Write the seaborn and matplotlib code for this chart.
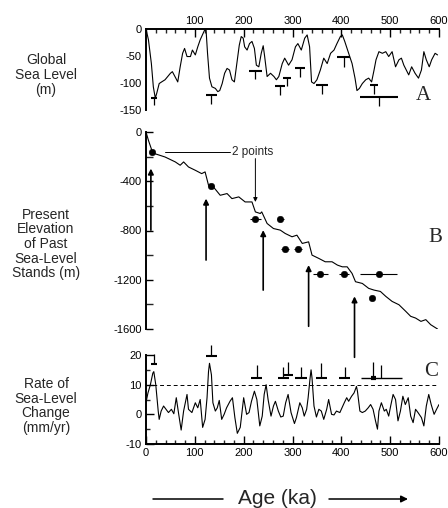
import matplotlib
matplotlib.use("Agg")
import matplotlib.pyplot as plt
from matplotlib.ticker import MultipleLocator
from matplotlib.lines import Line2D
import pandas as pd
import seaborn as sns

sns.set_style("white")
plt.rcParams['font.family'] = ['Liberation Sans', 'DejaVu Sans']
plt.rcParams['axes.unicode_minus'] = False

## panel A: global sea level (m)
A_age = [0,5,11,15,19,22,27,32,39,50,54,61,65,70,75,79,84,91,95,101,106,111,117,120,123,126,130,135,142,147,
         151,156,161,166,171,176,181,186,191,195,199,202,207,212,217,222,226,231,236,240,243,248,255,262,267,272,279,284,292,299,
         306,311,318,325,330,335,339,344,350,357,364,371,378,385,391,398,402,407,415,422,428,432,437,443,450,456,462,467,471,477,
         484,491,497,504,511,518,523,528,533,538,544,551,558,564,569,574,580,585,592,597]
A_sl = [0,-20,-64,-107,-128,-119,-101,-98,-94,-82,-79,-91,-98,-70,-45,-36,-51,-51,-39,-48,-33,-20,-8,-2,-2,-45,-91,-107,-110,-116,
        -114,-101,-82,-73,-76,-94,-98,-64,-30,-14,-17,-33,-39,-27,-23,-36,-67,-70,-45,-31,-51,-88,-82,-88,-94,-88,-64,-54,-67,-57,
        -33,-27,-39,-17,-11,-33,-98,-101,-94,-76,-54,-64,-45,-39,-27,-14,-11,-23,-45,-64,-91,-114,-110,-101,-94,-91,-98,-76,-57,-42,
        -45,-42,-51,-42,-70,-57,-54,-67,-76,-85,-70,-82,-91,-76,-42,-57,-70,-57,-45,-48]
# T markers (age, bar level, half width, lower end)
A_t_age = [16, 134, 224, 275, 289, 316, 361, 405, 467, 478]
A_t_top = [-128, -122, -77, -105, -91, -73, -104, -51, -104, -125]
A_t_hw = [6, 11, 14, 10, 8, 10, 12, 13, 8, 39]
A_t_low = [-141, -139, -93, -122, -105, -88, -120, -70, -120, -142]

## panel B: present elevation of past sea-level stands (m)
B_age = [0,5,12,18,39,60,70,77,87,101,114,121,128,138,152,166,176,190,203,217,224,234,237,248,261,275,285,299,309,320,
         333,340,354,367,381,392,402,412,422,429,443,456,467,480,491,504,518,532,542,552,563,573,583,597]
B_elev = [0,-68,-149,-176,-203,-243,-270,-243,-284,-311,-338,-324,-432,-446,-514,-500,-541,-527,-568,-568,-649,-662,-649,-743,-784,-797,-824,-851,-838,-905,
          -892,-1000,-1027,-1054,-1054,-1081,-1095,-1095,-1149,-1216,-1230,-1270,-1284,-1295,-1335,-1376,-1403,-1457,-1497,-1511,-1538,-1524,-1565,-1600]
pt_age = [13, 133, 224, 275, 285, 311, 357, 405, 477, 462]
pt_elev = [-162, -438, -703, -703, -954, -954, -1154, -1154, -1154, -1349]
pt_err = [0, 7, 11, 7, 8, 8, 15, 10, 38, 0]
arr_age = [10, 123, 240, 333, 427]
arr_tip = [-297, -541, -797, -1081, -1335]
arr_tail = [-797, -1040, -1284, -1578, -1830]

## panel C: rate of sea-level change (mm/yr)
C_age = [0,4,9,14,16,20,25,27,31,36,41,46,52,57,62,67,72,77,84,87,94,101,106,111,116,121,125,128,130,134,
         137,142,146,150,155,160,165,172,177,182,187,193,200,206,211,216,222,227,233,238,242,246,250,256,261,265,271,276,281,286,
         291,297,304,308,315,320,324,329,332,336,338,340,344,349,354,359,364,370,374,380,385,390,397,406,411,415,421,426,431,433,
         438,443,449,455,460,465,470,474,477,482,488,492,497,501,506,511,516,521,526,531,537,542,547,552,557,564,569,574,579,584,
         590,595,600]
C_rate = [4,7.2,10,13.9,14.4,10,1.1,-1.7,1.1,2.8,1.7,0.6,1.7,0.2,5.6,0,-5.3,1.1,6.7,1.7,0.6,3.9,2.2,5,-4.4,-1.7,5.6,14.4,17.2,13.3,
          3.9,1.1,2.2,4.7,-1.7,0,2.2,4.4,5.6,-1.1,-6.4,-4.4,5.6,0,0.6,4.4,7.8,5,-3.9,-0.6,6.7,10,5,-0.6,2.8,4.4,1.1,-0.9,-0.6,3.9,
          6.7,0.6,-3.1,-1.1,3.9,2.2,-0.6,1.7,5.6,12.2,15,12.2,2.8,-0.9,1.7,1.1,-1.7,1.7,5,0,-0.2,1.1,0.6,3.9,5.6,4.4,6.1,7.2,9.4,7.8,
          1.1,0.6,1.1,2.2,3.3,1.7,-2.2,-5,1.1,3.9,1.1,1.7,-0.6,2.8,6.7,5,-2.2,1.1,6.1,3.3,5.6,-0.6,-2.8,1.7,0.6,-1.1,-3.9,2.8,6.7,3.3,
          0,1.7,3.3]
# inverted T markers (age, bar level, half width, upper end)
C_t_age = [16, 134, 227, 281, 290, 317, 359, 407, 465, 482]
C_t_bar = [16.9, 19.8, 12.2, 12.2, 13.1, 12.2, 12.2, 12.2, 12.2, 12.2]
C_t_hw = [6, 11, 11, 11, 10, 12, 11, 11, 0, 0]
C_t_top = [20.5, 23.3, 16.7, 16.1, 17.8, 16.1, 17.2, 16.1, 17.8, 16.7]
C_long = [441, 524]

dfA = pd.DataFrame({'age': A_age, 'sl': A_sl})
dfB = pd.DataFrame({'age': B_age, 'elev': B_elev})
dfP = pd.DataFrame({'age': pt_age, 'elev': pt_elev, 'err': pt_err})
dfC = pd.DataFrame({'age': C_age, 'rate': C_rate})

fig = plt.figure(figsize=(4.48, 5.08), dpi=100)
L, W = 146/448, 293/448
axA = fig.add_axes([L, 1-110/508, W, 81/508])
axB = fig.add_axes([L, 1-329/508, W, 197/508])
axC = fig.add_axes([L, 1-444/508, W, 89/508])
for ax in (axA, axB, axC):
    ax.set_facecolor('none')
    ax.set_xlim(0, 600)
    for s in ax.spines.values():
        s.set_linewidth(1.4)
        s.set_color('k')

lab_kw = dict(labelsize=8, colors='k', direction='in', width=1)

############ A ############
sns.lineplot(data=dfA, x='age', y='sl', ax=axA, color='k', lw=0.8, estimator=None, sort=False)
axA.hlines(A_t_top, [a - h for a, h in zip(A_t_age, A_t_hw)], [a + h for a, h in zip(A_t_age, A_t_hw)], color='k', lw=1.5)
axA.vlines(A_t_age, A_t_low, A_t_top, color='k', lw=0.9)
axA.set_ylim(-150, 0)
axA.xaxis.tick_top()
axA.set_xticks(range(100, 601, 100))
axA.xaxis.set_minor_locator(MultipleLocator(20))
axA.set_yticks([0, -50, -100, -150])
axA.tick_params(axis='x', which='major', length=6, pad=2, **lab_kw)
axA.tick_params(axis='x', which='minor', length=3, direction='in', width=1, top=True, bottom=False)
axA.tick_params(axis='y', which='major', length=5, pad=3, **lab_kw)
axA.spines['bottom'].set_visible(False)
axA.spines['right'].set_visible(False)
axA.set_xlabel('')
axA.set_ylabel('')
axA.text(567, -124, 'A', family='Liberation Serif', fontsize=15, ha='center', va='center')

############ B ############
sns.lineplot(data=dfB, x='age', y='elev', ax=axB, color='k', lw=0.8, estimator=None, sort=False)
axB.errorbar(dfP.age, dfP.elev, xerr=dfP.err, fmt='none', ecolor='k', elinewidth=0.8, capsize=0)
sns.scatterplot(data=dfP, x='age', y='elev', ax=axB, color='k', s=22, edgecolor='k', zorder=5)
for a, tip, tail in zip(arr_age, arr_tip, arr_tail):
    axB.annotate('', xy=(a, tip), xytext=(a, tail), annotation_clip=False,
                 arrowprops=dict(arrowstyle='-|>', color='k', lw=1.2, mutation_scale=8, shrinkA=0, shrinkB=0))
axB.plot([39, 172], [pt_elev[0], pt_elev[0]], color='k', lw=0.7)
axB.text(177, pt_elev[0], '2 points', fontsize=8.5, va='center', ha='left')
axB.annotate('', xy=(pt_age[2], -568), xytext=(pt_age[2], -216),
             arrowprops=dict(arrowstyle='-|>', color='k', lw=0.7, mutation_scale=6, shrinkA=0, shrinkB=0))
axB.set_ylim(-1600, 0)
axB.set_xticks([])
axB.set_yticks(range(0, -1601, -400))
axB.yaxis.set_minor_locator(MultipleLocator(200))
axB.tick_params(axis='y', which='major', length=5, pad=3, left=True, **lab_kw)
axB.tick_params(axis='y', which='minor', length=5, direction='in', width=1, left=True)
for s in ('top', 'right', 'bottom'):
    axB.spines[s].set_visible(False)
axB.set_xlabel('')
axB.set_ylabel('')
axB.text(592, -853, 'B', family='Liberation Serif', fontsize=15, ha='center', va='center')

############ C ############
sns.lineplot(data=dfC, x='age', y='rate', ax=axC, color='k', lw=0.8, estimator=None, sort=False)
axC.axhline(10, color='k', lw=0.7, ls=(0, (4, 3)))
axC.hlines(C_t_bar, [a - h for a, h in zip(C_t_age, C_t_hw)], [a + h for a, h in zip(C_t_age, C_t_hw)],
           color='k', lw=1.5, clip_on=False)
axC.vlines(C_t_age, C_t_bar, C_t_top, color='k', lw=0.9, clip_on=False)
axC.hlines(C_t_bar[-1], C_long[0], C_long[1], color='k', lw=1.0)
axC.hlines(C_t_bar[-1], 460, 472, color='k', lw=3)
axC.set_ylim(-10, 20)
axC.set_xticks(range(0, 601, 100))
axC.xaxis.set_minor_locator(MultipleLocator(20))
axC.set_yticks([-10, 0, 10, 20])
axC.yaxis.set_minor_locator(MultipleLocator(5))
axC.tick_params(axis='both', which='major', length=6, pad=3, bottom=True, left=True, **lab_kw)
axC.tick_params(axis='both', which='minor', length=3, direction='in', width=1, bottom=True, left=True)
axC.spines['top'].set_visible(False)
axC.spines['right'].set_visible(False)
axC.set_xlabel('')
axC.set_ylabel('')
axC.text(584, 14.3, 'C', family='Liberation Serif', fontsize=15, ha='center', va='center')

## left labels
fig.text(46/448, 1-75/508, 'Global\nSea Level\n(m)', ha='center', va='center', fontsize=10, linespacing=1.05)
fig.text(46/448, 1-244/508, 'Present\nElevation\nof Past\nSea-Level\nStands (m)', ha='center', va='center', fontsize=10, linespacing=1.05)
fig.text(46/448, 1-406/508, 'Rate of\nSea-Level\nChange\n(mm/yr)', ha='center', va='center', fontsize=10, linespacing=1.05)

## bottom age label with arrows
yb = 1 - 499/508
fig.text(277/448, yb, 'Age (ka)', ha='center', va='center', fontsize=15)
fig.add_artist(Line2D([153/448, 223/448], [yb, yb], transform=fig.transFigure, color='k', lw=1.1))
axC.annotate('', xy=(408/448, yb), xytext=(329/448, yb), xycoords='figure fraction', textcoords='figure fraction',
             arrowprops=dict(arrowstyle='-|>', color='k', lw=1.1, mutation_scale=10, shrinkA=0, shrinkB=0))

plt.savefig('out.png', dpi=100)
